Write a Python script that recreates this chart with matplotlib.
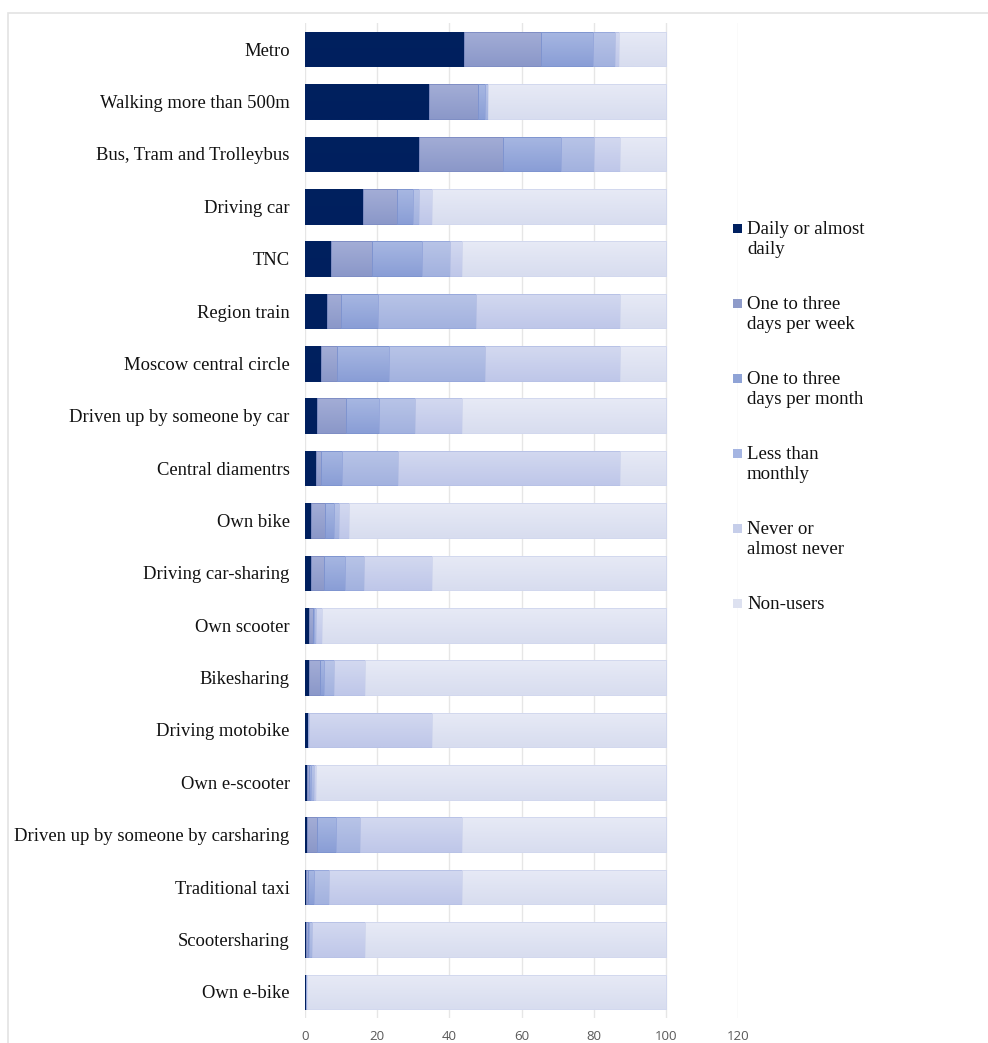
import matplotlib
matplotlib.use("Agg")
import matplotlib.pyplot as plt
import numpy as np
from matplotlib.colors import to_rgb
from matplotlib.patches import Rectangle

modes = ["Metro", "Walking more than 500m", "Bus, Tram and Trolleybus", "Driving car", "TNC",
         "Region train", "Moscow central circle", "Driven up by someone by car", "Central diamentrs",
         "Own bike", "Driving car-sharing", "Own scooter", "Bikesharing", "Driving motobike",
         "Own e-scooter", "Driven up by someone by carsharing", "Traditional taxi", "Scootersharing",
         "Own e-bike"]

series_names = ["Daily or almost\ndaily", "One to three\ndays per week", "One to three\ndays per month",
                "Less than\nmonthly", "Never or\nalmost never", "Non-users"]

daily = [44.1, 34.4, 31.6, 16.2, 7.3, 6.1, 4.4, 3.4, 3.1, 1.8, 1.8, 1.2, 1.2, 0.8, 0.5, 0.5, 0.3, 0.2, 0.2]
per_week = [21.2, 13.6, 23.4, 9.2, 11.4, 3.8, 4.6, 7.9, 1.2, 3.8, 3.6, 0.9, 3.0, 0.0, 0.5, 2.7, 0.5, 0.5, 0.1]
per_month = [14.4, 1.9, 15.9, 4.6, 13.6, 10.2, 14.3, 9.1, 5.9, 2.3, 5.6, 0.5, 1.1, 0.0, 0.8, 5.3, 1.7, 0.5, 0.1]
less_monthly = [6.3, 0.7, 9.2, 1.6, 7.8, 27.4, 26.6, 10.1, 15.5, 1.5, 5.3, 0.5, 2.7, 0.2, 0.7, 6.7, 4.1, 0.7, 0.1]
never = [1.1, 0.0, 7.2, 3.7, 3.4, 39.7, 37.3, 13.0, 61.5, 2.9, 19.0, 1.6, 8.7, 34.3, 0.5, 28.3, 36.9, 14.8, 0.0]
non_users = [12.9, 49.4, 12.7, 64.7, 56.5, 12.8, 12.8, 56.5, 12.8, 87.7, 64.7, 95.3, 83.3, 64.7, 97.0, 56.5, 56.5, 83.3, 99.5]

series = [daily, per_week, per_month, less_monthly, never, non_users]

top_cols = ["#00215f", "#a3add6", "#a7b7e2", "#b8c4e7", "#d3d9f0", "#e7eaf6"]
bot_cols = ["#001f5e", "#8b98c9", "#8a9ed6", "#a3b2df", "#bfc7e9", "#d8ddef"]
leg_cols = ["#002060", "#8e9bc9", "#8fa3d6", "#a5b5e2", "#c6ceea", "#dde1f0"]
edge_cols = ["#002060", "#7f8ec4", "#7f95d0", "#98a9dc", "#b8c2e6", "#d2d8ee"]

W, H = 988, 1043
fig = plt.figure(figsize=(W / 100, H / 100), dpi=100)
ax = fig.add_axes([305 / W, 1 - 1018 / H, (738 - 305) / W, (1018 - 23) / H])

n = len(modes)
y = np.arange(n)
left = np.zeros(n)
bar_h = 0.66
for k, vals in enumerate(series):
    vals = np.array(vals)
    bars = ax.barh(y, vals, left=left, height=bar_h, color=leg_cols[k],
                   edgecolor=edge_cols[k], linewidth=0.7, label=series_names[k], zorder=2)
    c1 = np.array(to_rgb(top_cols[k]))
    c2 = np.array(to_rgb(bot_cols[k]))
    grad = np.linspace(0, 1, 32)[:, None, None]
    img = (c1 * (1 - grad) + c2 * grad)
    for b in bars:
        if b.get_width() <= 0:
            continue
        x0, y0 = b.get_x(), b.get_y()
        w, h = b.get_width(), b.get_height()
        im = ax.imshow(img, extent=[x0, x0 + w, y0 + h, y0], aspect="auto", zorder=2.5,
                       interpolation="bilinear", origin="upper")
        im.set_clip_path(b)
        ax.add_patch(Rectangle((x0, y0), w, h, fill=False, edgecolor=edge_cols[k],
                               linewidth=0.7, zorder=2.6))
    left = left + vals

ax.set_xlim(0, 120)
ax.set_ylim(n - 0.5, -0.5)
ax.set_xticks(np.arange(0, 121, 20))
ax.set_yticks(y)
ax.set_yticklabels(modes, family="Liberation Serif", fontsize=13.45, color="#111111")
for lab in ax.get_xticklabels():
    lab.set_family("Open Sans")
    lab.set_fontsize(9.5)
    lab.set_color("#595959")
ax.tick_params(axis="both", length=0)
ax.tick_params(axis="y", pad=11)
ax.tick_params(axis="x", pad=9)
ax.grid(axis="x", color="#e6e6e6", linewidth=1.0, zorder=0)
ax.set_axisbelow(True)
for s in ax.spines.values():
    s.set_visible(False)

# legend (marker aligned with first text line, as in the reference)
leg_top = 228
leg_step = 75
for k, name in enumerate(series_names):
    yc = leg_top + k * leg_step
    fig.add_artist(Rectangle((733 / W, 1 - (yc + 4.5) / H), 8.5 / W, 8.5 / H,
                             transform=fig.transFigure, facecolor=leg_cols[k],
                             edgecolor="none"))
    fig.text(747 / W, 1 - (yc - 7) / H, name, ha="left", va="top",
             family="Liberation Serif", fontsize=13.6, color="#111111", linespacing=1.2)

fig.add_artist(Rectangle((8 / W, -0.01), 1.5, 1 - 13 / H + 0.01, transform=fig.transFigure,
                         fill=False, edgecolor="#e3e3e3", linewidth=1.2))

fig.savefig("out.png", dpi=100)
